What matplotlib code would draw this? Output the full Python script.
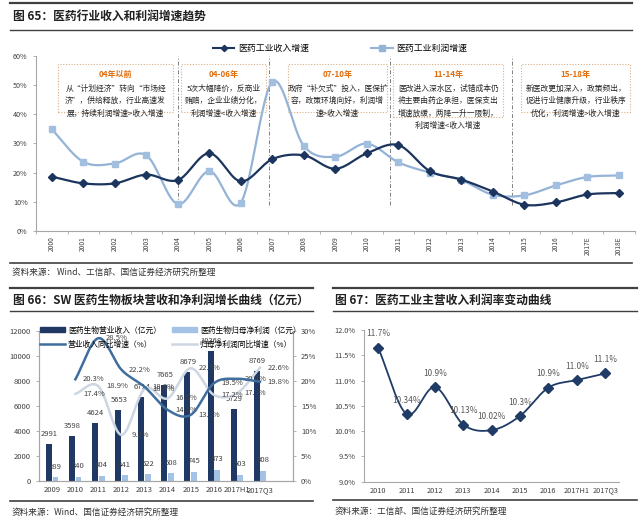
import numpy as np
import matplotlib
matplotlib.use('Agg')
import matplotlib.pyplot as plt
from matplotlib.patches import Rectangle, Patch
from matplotlib.lines import Line2D

plt.rcParams['font.family'] = ['Noto Sans CJK SC', 'DejaVu Sans']

# ---- data: 图65 医药行业收入和利润增速 (%)
years65 = ['2000', '2001', '2002', '2003', '2004', '2005', '2006', '2007', '2008', '2009',
           '2010', '2011', '2012', '2013', '2014', '2015', '2016', '2017E', '2018E']
rev65 = [18.6, 16.3, 16.3, 19.3, 17.4, 26.6, 17.0, 24.6, 25.9, 21.3,
         26.6, 29.4, 20.5, 17.6, 13.5, 9.0, 9.8, 12.5, 13.0]
pro65 = [34.8, 23.7, 23.1, 25.9, 9.2, 20.5, 9.7, 51.1, 29.1, 25.4,
         29.9, 23.5, 20.0, 17.4, 12.4, 12.2, 15.6, 18.5, 19.0]

periods65 = ['04年以前', '04-06年', '07-10年', '11-14年', '15-18年']
notes65 = [
    ['从“计划经济”转向“市场经', '济”，供给释放，行业高速发', '展，持续利润增速>收入增速'],
    ['5次大幅降价，反商业', '贿赂，企业业绩分化，', '利润增速<收入增速'],
    ['政府“补欠式”投入，医保扩', '容，政策环境向好，利润增', '速>收入增速'],
    ['医改进入深水区，试错成本仍', '将主要由药企承担，医保支出', '增速放缓，两降一升一限制，', '利润增速<收入增速'],
    ['新医改更加深入，政策频出，', '促进行业健康升级，行业秩序', '优化，利润增速>收入增速'],
]

# ---- data: 图66 SW医药生物板块
cats66 = ['2009', '2010', '2011', '2012', '2013', '2014', '2015', '2016', '2017H1', '2017Q3']
rev66 = [2991, 3598, 4624, 5653, 6714, 7665, 8679, 10368, 5729, 8769]
np66 = [289, 340, 404, 441, 522, 608, 745, 873, 503, 808]
revg66 = [20.3, 28.5, 22.2, 18.8, 14.2, 13.2, 19.5, 20.4, 19.8]   # 2010 起
npg66 = [17.4, 18.9, 9.2, 18.4, 16.5, 22.5, 17.2, 17.5, 22.6]

# ---- data: 图67 医药工业主营收入利润率
cats67 = ['2010', '2011', '2012', '2013', '2014', '2015', '2016', '2017H1', '2017Q3']
margin67 = [11.65, 10.34, 10.87, 10.13, 10.02, 10.30, 10.86, 11.01, 11.14]
labels67 = ['11.7%', '10.34%', '10.9%', '10.13%', '10.02%', '10.3%', '10.9%', '11.0%', '11.1%']

W, H = 640, 524
fig = plt.figure(figsize=(6.4, 5.24), dpi=100)
fig.patch.set_facecolor('white')


def fx(px):
    return px / W


def fy(py):
    return 1 - py / H


def rect(l, t, r, b):
    return [fx(l), fy(b), fx(r) - fx(l), fy(t) - fy(b)]


def smooth(xs, ys, n=20):
    # catmull-rom, like excel's smoothed line
    xs = np.asarray(xs, float)
    ys = np.asarray(ys, float)
    px = np.concatenate([[2 * xs[0] - xs[1]], xs, [2 * xs[-1] - xs[-2]]])
    py = np.concatenate([[2 * ys[0] - ys[1]], ys, [2 * ys[-1] - ys[-2]]])
    t = np.linspace(0, 1, n, endpoint=False)
    ox, oy = [], []
    for i in range(1, len(xs)):
        for p, o in ((px, ox), (py, oy)):
            p0, p1, p2, p3 = p[i - 1], p[i], p[i + 1], p[i + 2]
            o.extend(0.5 * (2 * p1 + (-p0 + p2) * t + (2 * p0 - 5 * p1 + 4 * p2 - p3) * t ** 2
                            + (-p0 + 3 * p1 - 3 * p2 + p3) * t ** 3))
    ox.append(xs[-1])
    oy.append(ys[-1])
    return np.array(ox), np.array(oy)


def hline(y, x0, x1, lw=1.0, color='#404040'):
    fig.add_artist(Line2D([fx(x0), fx(x1)], [fy(y), fy(y)], color=color, lw=lw))


def style(ax, size=5.5):
    for s in ax.spines.values():
        s.set_color('#A6A6A6')
        s.set_linewidth(0.8)
    ax.tick_params(labelsize=size, colors='#595959', length=2.5, width=0.6)
    ax.tick_params(axis='both', colors='#A6A6A6', labelcolor='#404040')


navy = '#1C355E'
light = '#95B3D7'
grey_txt = '#404040'

# ================= 图65 =================
hline(3, 10, 632, lw=1.6)
hline(30, 10, 632, lw=1.0)
fig.text(fx(13), fy(17), '图 65：医药行业收入和利润增速趋势', fontsize=8.5,
         fontweight='bold', va='center', color='#202020')
hline(263, 10, 632, lw=1.2)
fig.text(fx(12), fy(272), '资料来源： Wind、工信部、国信证券经济研究所整理', fontsize=6.2,
         va='center', color='#333333')

ax1 = fig.add_axes(rect(36, 55.7, 634.7, 231))
x65 = np.arange(len(years65))
sx, sy = smooth(x65, pro65)
ax1.plot(sx, sy, color=light, lw=1.6, zorder=3)
ax1.plot(x65, pro65, 's', ms=4.8, color='#A3BFE0', zorder=4)
sx, sy = smooth(x65, rev65)
ax1.plot(sx, sy, color=navy, lw=1.6, zorder=5)
ax1.plot(x65, rev65, 'D', ms=3.8, color=navy, zorder=6)

ax1.set_xlim(-0.5, len(years65) - 0.5)
ax1.set_ylim(0, 60)
ax1.set_yticks(range(0, 61, 10), [f'{v}%' for v in range(0, 61, 10)])
ax1.set_xticks(x65, years65, rotation=90)
ax1.set_xticks(np.arange(-0.5, len(years65), 1), minor=True)
ax1.spines['top'].set_visible(False)
ax1.spines['right'].set_visible(False)
style(ax1, 5.2)
ax1.tick_params(axis='x', which='major', length=0, labelsize=4.8, pad=4)
ax1.tick_params(axis='x', which='minor', length=2.5, color='#A6A6A6')

# period separators and note boxes
for xv in [4.0, 6.9, 10.75, 14.6, 18.5]:
    ax1.plot([xv, xv], [9, 60], color='#7F7F7F', lw=0.7, ls=(0, (4, 2, 1, 2)), zorder=2)

boxes = [(0.2, 3.85, 40.7), (4.1, 6.8, 40.7), (7.5, 10.65, 40.7),
         (10.83, 14.33, 39.0), (14.9, 18.36, 40.7)]
for (x0, x1, yb), title, lines in zip(boxes, periods65, notes65):
    ax1.add_patch(Rectangle((x0, yb), x1 - x0, 57.2 - yb, facecolor='white',
                            edgecolor='#D9AE84', lw=0.8, ls=(0, (1, 1.5)), zorder=2.5))
    xc = (x0 + x1) / 2
    ax1.text(xc, 53.6, title, ha='center', va='center', fontsize=5.8,
             fontweight='bold', color='#E36C09', zorder=7)
    for k, line in enumerate(lines):
        ax1.text(xc, 48.8 - 4.3 * k, line, ha='center', va='center', fontsize=5.6,
                 color='#262626', zorder=7)

h1 = [Line2D([], [], color=navy, lw=1.5, marker='D', ms=3.2),
      Line2D([], [], color=light, lw=1.5, marker='s', ms=4)]
ax1.legend(h1, ['医药工业收入增速', '医药工业利润增速'], ncol=2, loc='center',
           bbox_to_anchor=(0.508, 1.04), frameon=False, fontsize=6.4,
           handlelength=2.4, columnspacing=7.0, handletextpad=0.4)

# ================= 图66 =================
hline(287.7, 10, 313, lw=1.6)
hline(311, 10, 313, lw=1.0)
fig.text(fx(13), fy(300), '图 66：SW 医药生物板块营收和净利润增长曲线（亿元）', fontsize=8.5,
         fontweight='bold', va='center', color='#202020')
hline(501, 10, 313, lw=1.2)
fig.text(fx(12), fy(512), '资料来源：Wind、国信证券经济研究所整理', fontsize=6.2,
         va='center', color='#333333')

ax2 = fig.add_axes(rect(39.3, 330.7, 292.7, 481))
x66 = np.arange(len(cats66))
ax2.bar(x66 - 0.14, rev66, width=0.26, color='#1F3864', zorder=2)
ax2.bar(x66 + 0.14, np66, width=0.25, color='#A4C2E6', zorder=2)
for i, v in enumerate(rev66):
    ax2.text(i - 0.12, v + 800, str(v), ha='center', va='center', fontsize=5.5,
             color=grey_txt, zorder=6)
for i, v in enumerate(np66):
    ax2.text(i + 0.14, v + 850, str(v), ha='center', va='center', fontsize=5.5,
             color=grey_txt, zorder=6)
ax2.set_xlim(-0.563, 10.42)
ax2.set_ylim(0, 12000)
ax2.set_yticks(range(0, 12001, 2000))
ax2.set_xticks(x66, cats66)
ax2.spines['top'].set_visible(False)
style(ax2)
ax2.tick_params(axis='x', length=0)

ax2r = ax2.twinx()
xl = x66[1:]
sx, sy = smooth(xl, npg66)
ax2r.plot(sx, sy, color='#CDD6E1', lw=1.8, zorder=3)
sx, sy = smooth(xl, revg66)
ax2r.plot(sx, sy, color='#3F6E9E', lw=1.8, zorder=4)
for i, v in zip(xl, revg66):
    ax2r.text(i + 0.8, v, f'{v}%', ha='center', va='center', fontsize=5.5, color=grey_txt)
for i, v in zip(xl, npg66):
    ax2r.text(i + 0.8, v, f'{v}%', ha='center', va='center', fontsize=5.5, color=grey_txt)
ax2r.set_ylim(0, 30)
ax2r.set_yticks(range(0, 31, 5), [f'{v}%' for v in range(0, 31, 5)])
ax2r.spines['top'].set_visible(False)
style(ax2r)

h2 = [Patch(color='#1F3864'), Line2D([], [], color='#3F6E9E', lw=1.8),
      Patch(color='#A4C2E6'), Line2D([], [], color='#CDD6E1', lw=1.8)]
l2 = ['医药生物营业收入（亿元）', '营业收入同比增速（%）',
      '医药生物归母净利润（亿元）', '归母净利润同比增速（%）']
ax2r.legend(h2, l2, ncol=2, loc='upper left', bbox_to_anchor=(-0.01, 1.05),
            borderaxespad=0, frameon=False, fontsize=5.6, handlelength=3.2,
            handleheight=0.6, columnspacing=1.4, labelspacing=0.8, handletextpad=0.4)

# ================= 图67 =================
hline(287.7, 333, 637, lw=1.6)
hline(311, 333, 637, lw=1.0)
fig.text(fx(335), fy(300), '图 67：医药工业主营收入利润率变动曲线', fontsize=8.5,
         fontweight='bold', va='center', color='#202020')
hline(500, 333, 637, lw=1.2)
fig.text(fx(335), fy(511), '资料来源：工信部、国信证券经济研究所整理', fontsize=6.2,
         va='center', color='#333333')

ax3 = fig.add_axes(rect(364, 330, 619.3, 481.7))
x67 = np.arange(len(cats67))
sx, sy = smooth(x67, margin67)
ax3.plot(sx, sy, color='#1F3B66', lw=1.3, zorder=3)
ax3.plot(x67, margin67, 'D', ms=5, color='#1F3B66', zorder=4)
for i, (v, t) in enumerate(zip(margin67, labels67)):
    ax3.annotate(t, (i, v), xytext=(0, 10), textcoords='offset points', ha='center',
                 va='center', fontsize=6, color='#595959')
ax3.set_xlim(-0.5, len(cats67) - 0.5)
ax3.set_ylim(9, 12)
yt = np.arange(9, 12.01, 0.5)
ax3.set_yticks(yt, [f'{v:.1f}%' for v in yt])
ax3.set_xticks(x67, cats67)
ax3.spines['top'].set_visible(False)
ax3.spines['right'].set_visible(False)
style(ax3, 5.3)
ax3.tick_params(axis='x', length=0)

fig.savefig('out.png', dpi=100, facecolor='white')
